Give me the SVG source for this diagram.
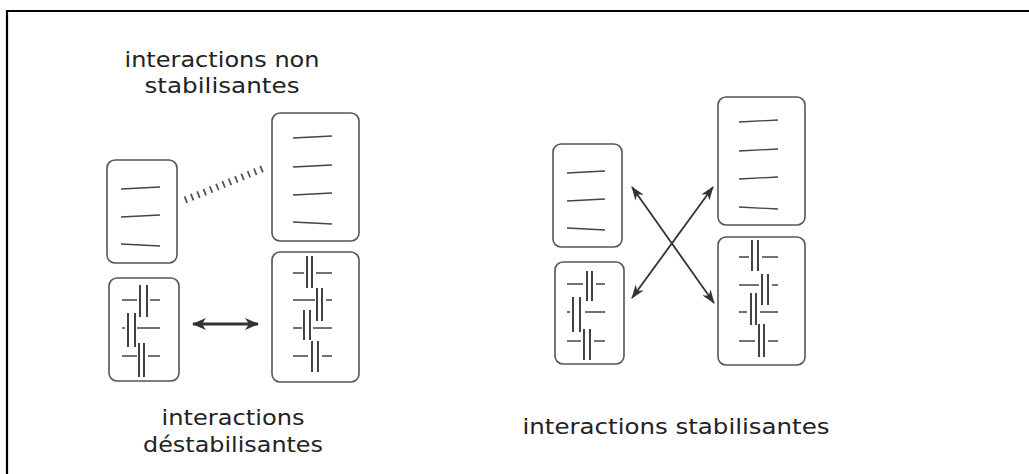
<svg xmlns="http://www.w3.org/2000/svg" width="1029" height="474" viewBox="0 0 1029 474">
<defs>
<style>
.frame{fill:none;stroke:#000;stroke-width:2.2}
.box{fill:#fff;stroke:#555;stroke-width:1.6}
.strand{stroke:#444;stroke-width:1.3;fill:none}
.bar{stroke:#222;stroke-width:1.7;fill:none}
.lbl{font-family:"DejaVu Sans","Liberation Sans",sans-serif;font-size:21px;fill:#222;text-anchor:middle}
.arr{stroke:#333;fill:none}
</style>
<marker id="ah1" viewBox="0 0 14 12" refX="13" refY="6" markerWidth="15" markerHeight="12" orient="auto-start-reverse" markerUnits="userSpaceOnUse">
<path d="M0,0 L14,6 L0,12 L4,6 z" fill="#333"/>
</marker>
<marker id="ah2" viewBox="0 0 14 10" refX="13" refY="5" markerWidth="15" markerHeight="10" orient="auto-start-reverse" markerUnits="userSpaceOnUse">
<path d="M0,0 L14,5 L0,10 L4,5 z" fill="#333"/>
</marker>
</defs>
<rect width="1029" height="474" fill="#fff"/>
<path class="frame" d="M7,474 V11 H1029"/>

<g id="label-non-stab">
<text class="lbl" x="222" y="67" textLength="195" lengthAdjust="spacingAndGlyphs">interactions non</text>
<text class="lbl" x="222" y="93" textLength="155" lengthAdjust="spacingAndGlyphs">stabilisantes</text>
</g>
<g id="label-destab">
<text class="lbl" x="233" y="425" textLength="143" lengthAdjust="spacingAndGlyphs">interactions</text>
<text class="lbl" x="233" y="452" textLength="180" lengthAdjust="spacingAndGlyphs">déstabilisantes</text>
</g>
<g id="label-stab">
<text class="lbl" x="676" y="434" textLength="307" lengthAdjust="spacingAndGlyphs">interactions stabilisantes</text>
</g>

<g id="left-small-single">
<rect class="box" x="107" y="160" width="70" height="103" rx="8"/>
<path class="strand" d="M121,189 L160,187 M121,217 L160,215 M121,244 L160,246"/>
</g>
<g id="left-large-single">
<rect class="box" x="272" y="113" width="87" height="128" rx="8"/>
<path class="strand" d="M293,138 L332,136 M293,167 L332,165 M293,195 L332,193 M293,222 L332,224"/>
</g>
<g id="left-small-duplex">
<rect class="box" x="109" y="278" width="70" height="103" rx="8"/>
<path class="strand" d="M122,300 H137 M150,300 H160 M122,328 H125 M137,328 H160 M122,356 H137 M148,356 H160"/>
<path class="bar" d="M140,285 V317 M147,285 V317 M128,313 V347 M135,313 V347 M139,343 V377 M144,343 V377"/>
</g>
<g id="left-large-duplex">
<rect class="box" x="272" y="252" width="87" height="130" rx="8"/>
<path class="strand" d="M293,273 H304 M316,273 H332 M293,300 H315 M326,300 H332 M293,328 H302 M313,328 H332 M293,356 H308 M322,356 H332"/>
<path class="bar" d="M307,256 V288 M312,256 V288 M317,288 V321 M322,288 V321 M304,310 V340 M310,310 V340 M312,341 V372 M318,341 V372"/>
</g>

<g id="right-small-single">
<rect class="box" x="553" y="144" width="69" height="103" rx="8"/>
<path class="strand" d="M567,173 L605,171 M567,201 L605,199 M567,228 L605,230"/>
</g>
<g id="right-large-single">
<rect class="box" x="718" y="97" width="87" height="128" rx="8"/>
<path class="strand" d="M739,122 L778,120 M739,151 L778,149 M739,179 L778,177 M739,207 L778,209"/>
</g>
<g id="right-small-duplex">
<rect class="box" x="555" y="262" width="69" height="102" rx="8"/>
<path class="strand" d="M567,284 H583 M596,284 H605 M567,312 H570 M585,312 H605 M567,341 H581 M594,341 H605"/>
<path class="bar" d="M587,271 V301 M592,271 V301 M573,297 V332 M580,297 V332 M584,329 V360 M590,329 V360"/>
</g>
<g id="right-large-duplex">
<rect class="box" x="718" y="237" width="87" height="128" rx="8"/>
<path class="strand" d="M739,257 H749 M762,257 H778 M739,285 H759 M772,285 H778 M739,312 H747 M760,312 H778 M739,341 H755 M768,341 H778"/>
<path class="bar" d="M752,240 V271 M758,240 V271 M762,274 V305 M768,274 V305 M751,293 V325 M756,293 V325 M759,324 V357 M764,324 V357"/>
</g>

<g id="connectors">
<line x1="185" y1="200" x2="267" y2="167" stroke="#555" stroke-width="7" stroke-dasharray="1.8 5"/>
<line class="arr" x1="193" y1="324" x2="258" y2="324" stroke-width="3" marker-start="url(#ah1)" marker-end="url(#ah1)"/>
<line class="arr" x1="632" y1="187" x2="714" y2="303" stroke-width="1.8" marker-start="url(#ah2)" marker-end="url(#ah2)"/>
<line class="arr" x1="713" y1="187" x2="632" y2="298" stroke-width="1.8" marker-start="url(#ah2)" marker-end="url(#ah2)"/>
</g>
</svg>
